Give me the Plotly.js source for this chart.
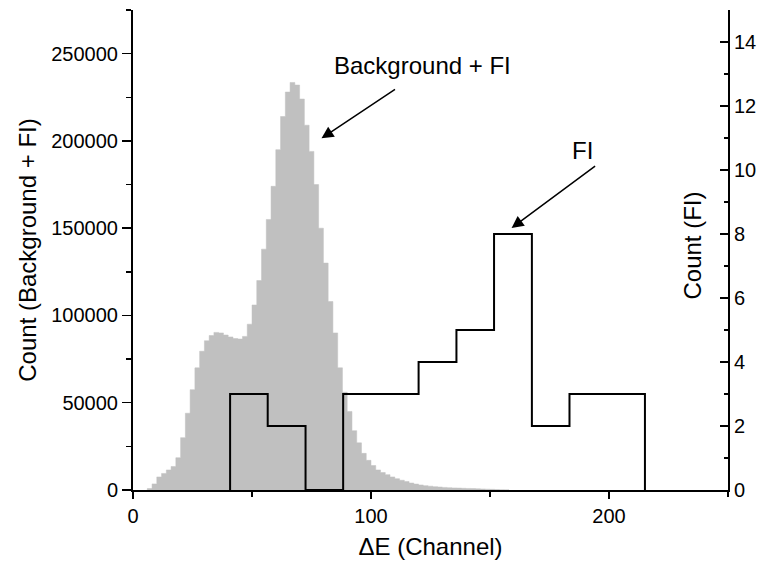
<!DOCTYPE html>
<html>
<head>
<meta charset="utf-8">
<script src="https://cdn.plot.ly/plotly-3.0.1.min.js"></script>
<style>html,body{margin:0;padding:0;background:#fff;}</style>
</head>
<body>
<div id="chart" style="width:762px;height:567px;"></div>
<script>
// Background + FI histogram (2-channel bins, centre channel)
const bgChannels = [7,9,11,13,15,17,19,21,23,25,27,29,31,33,35,37,39,41,43,45,47,49,51,53,55,57,59,61,63,65,67,69,71,73,75,77,79,81,83,85,87,89,91,93,95,97,99,101,103,105,107,109,111,113,115,117,119,121,123,125,127,129,131,133,135,137,139,141,143,145,147,149,151,153,155,157];
const bgCounts = [800,3500,7500,9500,11500,13500,18500,30000,44000,57500,70000,79500,85500,88500,90300,90000,88800,87700,86800,86500,88000,95000,106000,120000,138000,155000,174000,195000,214000,228000,233500,232000,224000,209000,194000,175000,150000,130000,108000,90000,70000,56000,45000,34000,27000,21000,17000,14000,11500,10000,8800,7500,6500,5600,4800,4000,3400,2900,2500,2200,1900,1700,1500,1300,1200,1100,1000,900,800,700,600,500,400,300,200,100];
const bgBinWidth = 2;

// FI histogram: bin edges and counts
const fiEdges = [40.8,56.6,72.5,88.3,104.2,120.0,135.9,151.7,167.6,183.4,199.3,215.1];
const fiCounts = [3,2,0,3,3,4,5,8,2,3,3];

// tick labels
const xTicks = [0,100,200];
const yTicks = [0,50000,100000,150000,200000,250000];
const y2Ticks = [0,2,4,6,8,10,12,14];

const FONT = 'Liberation Sans, Arial, sans-serif';

// background step outline from bin edges
const bgX = [], bgY = [];
bgX.push(bgChannels[0] - bgBinWidth/2); bgY.push(0);
for (let i = 0; i < bgChannels.length; i++) { bgX.push(bgChannels[i] - bgBinWidth/2); bgY.push(bgCounts[i]); }
bgX.push(bgChannels[bgChannels.length-1] + bgBinWidth/2); bgY.push(0);

// FI step path
const fiX = [fiEdges[0]];
const fiY = [0];
for (let i = 0; i < fiCounts.length; i++) { fiX.push(fiEdges[i]); fiY.push(fiCounts[i]); }
fiX.push(fiEdges[fiEdges.length-1]); fiY.push(0);

const traces = [
  {type:'scatter', mode:'lines', x:bgX, y:bgY, fill:'tozeroy', fillcolor:'#c0c0c0', line:{shape:'hv', color:'#c0c0c0', width:0.5}, xaxis:'x', yaxis:'y', hoverinfo:'skip'},
  {type:'scatter', mode:'lines', x:fiX, y:fiY, line:{shape:'hv', color:'#000', width:2}, xaxis:'x', yaxis:'y2', cliponaxis:false}
];

const layout = {
  width:762, height:567,
  margin:{l:133, r:34, t:10, b:77},
  paper_bgcolor:'#fff', plot_bgcolor:'#fff',
  showlegend:false,
  font:{family:FONT, color:'#000'},
  xaxis:{range:[0,250], tickvals:xTicks, ticktext:xTicks.map(String), ticks:'outside', ticklen:7, tickwidth:1.5, tickcolor:'#000',
         minor:{dtick:50, tick0:0, ticks:'outside', ticklen:5, tickwidth:1.5, tickcolor:'#000', showgrid:false},
         showline:true, linecolor:'#000', linewidth:2, showgrid:false, zeroline:false,
         tickfont:{size:20}, title:{text:'ΔE (Channel)', font:{size:24}, standoff:12}},
  xaxis2:{overlaying:'x', side:'top', anchor:'y', range:[0,250], dtick:50, tick0:0, ticks:'inside', ticklen:5, tickwidth:1.5, tickcolor:'#000',
          showticklabels:false, showline:true, linecolor:'#000', linewidth:2, showgrid:false, zeroline:false},
  yaxis:{range:[0,275000], tickvals:yTicks, ticktext:yTicks.map(String), ticks:'outside', ticklen:9, tickwidth:1.5, tickcolor:'#000',
         minor:{dtick:25000, tick0:0, ticks:'outside', ticklen:5, tickwidth:1.5, tickcolor:'#000', showgrid:false},
         showline:true, linecolor:'#000', linewidth:2, showgrid:false, zeroline:false,
         tickfont:{size:20}, title:{text:'Count (Background + FI)', font:{size:24}, standoff:8}},
  yaxis2:{overlaying:'y', side:'right', anchor:'x', range:[0,15], tickvals:y2Ticks, ticktext:y2Ticks.map(String), ticks:'inside', ticklen:8, tickwidth:1.5, tickcolor:'#000',
          minor:{dtick:1, tick0:0, ticks:'inside', ticklen:4, tickwidth:1.5, tickcolor:'#000', showgrid:false},
          showline:true, linecolor:'#000', linewidth:2, showgrid:false, zeroline:false,
          tickfont:{size:20}},
  annotations:[
    {xref:'paper', yref:'paper', x:0.940, y:0.51, text:'Count (FI)', textangle:-90, showarrow:false, font:{size:24}, xanchor:'center', yanchor:'middle'},
    {xref:'paper', yref:'paper', x:0.487, y:0.885, text:'Background + FI', showarrow:false, font:{size:24}, xanchor:'center', yanchor:'middle'},
    {xref:'paper', yref:'paper', x:0.756, y:0.708, text:'FI', showarrow:false, font:{size:24}, xanchor:'center', yanchor:'middle'},
    {xref:'paper', yref:'paper', x:0.3168, y:0.7327, text:'', showarrow:true, ax:75, ay:-50, arrowhead:2, arrowsize:1.6, arrowwidth:1.5, arrowcolor:'#000', standoff:0},
    {xref:'paper', yref:'paper', x:0.6363, y:0.5458, text:'', showarrow:true, ax:85, ay:-63, arrowhead:2, arrowsize:1.6, arrowwidth:1.5, arrowcolor:'#000', standoff:0}
  ]
};

Plotly.newPlot('chart', traces, layout, {displayModeBar:false, staticPlot:true});
</script>
</body>
</html>
